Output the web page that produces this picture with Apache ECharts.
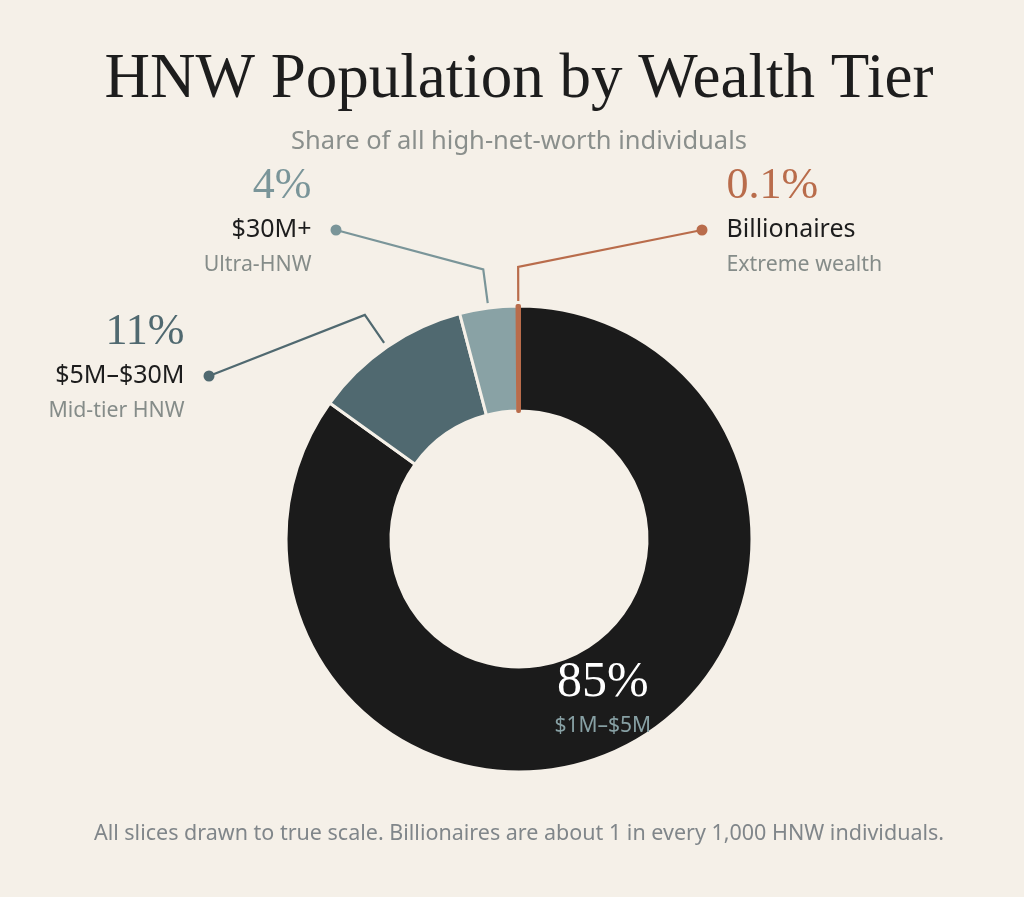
<!DOCTYPE html>
<html>
<head>
<meta charset="utf-8">
<script src="https://cdn.jsdelivr.net/npm/echarts@6/dist/echarts.min.js"></script>
<style>
  html, body { margin: 0; padding: 0; background: #f5f0e8; }
  #chart { width: 1024px; height: 897px; }
</style>
</head>
<body>
<div id="chart"></div>
<script>
// ---- data ----
const categories = ['$1M–$5M', '$5M–$30M', '$30M+', 'Billionaires'];
const shares = [85, 11, 4, 0.1];
const shareLabels = ['85%', '11%', '4%', '0.1%'];
const subLabels = ['', 'Mid-tier HNW', 'Ultra-HNW', 'Extreme wealth'];
const sliceColors = ['#1b1b1b', '#506970', '#89a2a5', '#b96c4b'];
const accentColors = ['#87a0a4', '#506970', '#7a9599', '#b96c4b'];

const titleText = 'HNW Population by Wealth Tier';
const subtitleText = 'Share of all high-net-worth individuals';
const footerText = 'All slices drawn to true scale. Billionaires are about 1 in every 1,000 HNW individuals.';

// ---- layout ----
const BG = '#f5f0e8';
const CX = 519, CY = 539, R_OUT = 233, R_IN = 128;
const SERIF = "'Liberation Serif', 'DejaVu Serif', serif";
const SANS = "'Noto Sans', 'Open Sans', sans-serif";
// callout dot centres for the outside labels
const callouts = {
  1: { side: 'left', dot: [209, 376] },
  2: { side: 'left', dot: [336, 230] },
  3: { side: 'right', dot: [702, 230] }
};
const LINE_GAP = 5, LINE_LEN = 34, DOT = 11, DOT_GAP = 19;

function richFor(i) {
  const c = accentColors[i];
  return {
    pct: { fontFamily: SERIF, fontSize: 44, color: c, lineHeight: 52 },
    name: { fontFamily: SANS, fontSize: 25, color: '#1d1d1d', lineHeight: 36 },
    sub: { fontFamily: SANS, fontSize: 21.3, color: '#858c89', lineHeight: 34 },
    g: { width: DOT + DOT_GAP, lineHeight: 34 },
    g2: { width: DOT_GAP, lineHeight: 36 },
    dot: { width: DOT, height: DOT, borderRadius: DOT / 2, backgroundColor: c, lineHeight: 36 }
  };
}

const total = shares.reduce((a, b) => a + b, 0);

const data = categories.map(function (name, i) {
  const item = {
    name: name,
    value: shares[i],
    itemStyle: { color: sliceColors[i] }
  };
  if (i === 0) {
    item.label = {
      show: true,
      position: 'inside',
      formatter: '{big|' + shareLabels[i] + '}\n{small|' + name + '}',
      rich: {
        big: { fontFamily: SERIF, fontSize: 50, color: '#ffffff', lineHeight: 48, align: 'center' },
        small: { fontFamily: SANS, fontSize: 21, color: accentColors[0], lineHeight: 38, align: 'center' }
      }
    };
    item.labelLine = { show: false };
  } else {
    const left = callouts[i].side === 'left';
    const fmt = left
      ? '{pct|' + shareLabels[i] + '}{g| }\n{name|' + name + '}{g2| }{dot| }\n{sub|' + subLabels[i] + '}{g| }'
      : '{g| }{pct|' + shareLabels[i] + '}\n{dot| }{g2| }{name|' + name + '}\n{g| }{sub|' + subLabels[i] + '}';
    const rich = richFor(i);
    Object.keys(rich).forEach(k => rich[k].align = left ? 'right' : 'left');
    item.label = {
      show: true,
      position: 'outside',
      align: left ? 'right' : 'left',
      formatter: fmt,
      rich: rich
    };
    item.labelLine = { show: true, length: LINE_LEN, length2: 20, lineStyle: { color: accentColors[i], width: 2.2 } };
  }
  if (i === 3) {
    item.itemStyle.borderColor = sliceColors[3];
    item.itemStyle.borderWidth = 4;
  }
  return item;
});

const chart = echarts.init(document.getElementById('chart'), null, { renderer: 'canvas' });
chart.setOption({
  backgroundColor: BG,
  animation: false,
  graphic: [
    { type: 'text', x: CX, y: 80, silent: true,
      style: { text: titleText, fontFamily: SERIF, fontSize: 63, fill: '#1d1d1d', align: 'center', verticalAlign: 'middle' } },
    { type: 'text', x: CX, y: 142, silent: true,
      style: { text: subtitleText, fontFamily: SANS, fontSize: 25.5, fill: '#8a8f8c', align: 'center', verticalAlign: 'middle' } },
    { type: 'text', x: CX, y: 833.5, silent: true,
      style: { text: footerText, fontFamily: SANS, fontSize: 21.5, fill: '#80868a', align: 'center', verticalAlign: 'middle' } }
  ],
  series: [{
    type: 'pie',
    center: [CX, CY],
    radius: [R_IN, R_OUT],
    startAngle: 90,
    clockwise: true,
    avoidLabelOverlap: false,
    silent: true,
    emphasis: { disabled: true },
    itemStyle: { borderColor: BG, borderWidth: 3 },
    label: { show: true },
    labelLayout: function (params) {
      const i = params.dataIndex;
      const spec = callouts[i];
      if (!spec) return {};
      let before = 0;
      for (let k = 0; k < i; k++) before += shares[k];
      const mid = (before + shares[i] / 2) / total;
      const ang = (90 - mid * 360) * Math.PI / 180;
      const dx = Math.cos(ang), dy = -Math.sin(ang);
      const start = [CX + (R_OUT + LINE_GAP) * dx, CY + (R_OUT + LINE_GAP) * dy];
      const elbow = [CX + (R_OUT + LINE_GAP + LINE_LEN) * dx, CY + (R_OUT + LINE_GAP + LINE_LEN) * dy];
      const left = spec.side === 'left';
      return {
        x: left ? spec.dot[0] + DOT / 2 : spec.dot[0] - DOT / 2,
        y: spec.dot[1] - 70,
        align: left ? 'right' : 'left',
        verticalAlign: 'top',
        labelLinePoints: [start, elbow, spec.dot.slice()]
      };
    },
    data: data
  }]
});
</script>
</body>
</html>
